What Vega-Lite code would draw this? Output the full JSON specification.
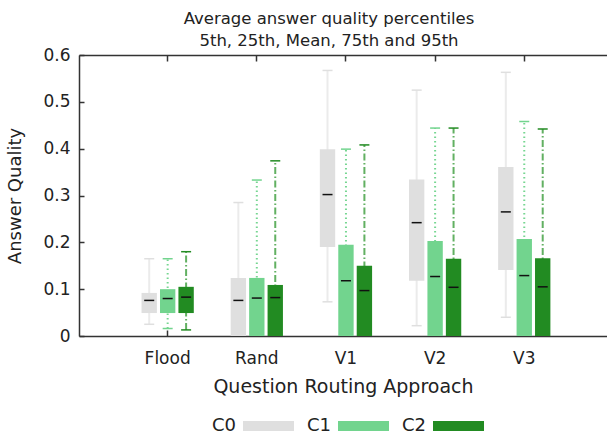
{
  "$schema": "https://vega.github.io/schema/vega-lite/v6.json",
  "width": 528,
  "height": 281,
  "autosize": {"type": "none"},
  "padding": {"left": 79, "top": 55, "right": 0, "bottom": 100},
  "background": "white",
  "config": {
    "font": "DejaVu Sans",
    "view": {"stroke": null},
    "axis": {
      "grid": false,
      "domainColor": "#333333",
      "domainWidth": 1.5,
      "tickColor": "#333333",
      "tickWidth": 1.5,
      "labelColor": "#222222",
      "titleColor": "#222222",
      "labelFontSize": 17,
      "titleFontWeight": "normal",
      "zindex": 1
    }
  },
  "title": {
    "text": ["Average answer quality percentiles", "5th, 25th, Mean, 75th and 95th"],
    "fontSize": 16.5,
    "fontWeight": "normal",
    "color": "#222222",
    "anchor": "middle",
    "dx": -14,
    "offset": -3,
    "lineHeight": 22
  },
  "data": {
    "values": [
      {"approach": "Flood", "cls": "C0", "p5": 0.025, "p25": 0.049, "mean": 0.076, "p75": 0.092, "p95": 0.165},
      {"approach": "Flood", "cls": "C1", "p5": 0.016, "p25": 0.049, "mean": 0.080, "p75": 0.100, "p95": 0.165},
      {"approach": "Flood", "cls": "C2", "p5": 0.013, "p25": 0.049, "mean": 0.083, "p75": 0.105, "p95": 0.180},
      {"approach": "Rand", "cls": "C0", "p5": 0, "p25": 0, "mean": 0.076, "p75": 0.124, "p95": 0.285},
      {"approach": "Rand", "cls": "C1", "p5": 0, "p25": 0, "mean": 0.081, "p75": 0.124, "p95": 0.333},
      {"approach": "Rand", "cls": "C2", "p5": 0, "p25": 0, "mean": 0.082, "p75": 0.109, "p95": 0.374},
      {"approach": "V1", "cls": "C0", "p5": 0.073, "p25": 0.190, "mean": 0.302, "p75": 0.399, "p95": 0.567},
      {"approach": "V1", "cls": "C1", "p5": 0, "p25": 0, "mean": 0.118, "p75": 0.195, "p95": 0.399},
      {"approach": "V1", "cls": "C2", "p5": 0, "p25": 0, "mean": 0.097, "p75": 0.150, "p95": 0.408},
      {"approach": "V2", "cls": "C0", "p5": 0.022, "p25": 0.118, "mean": 0.242, "p75": 0.334, "p95": 0.525},
      {"approach": "V2", "cls": "C1", "p5": 0, "p25": 0, "mean": 0.127, "p75": 0.203, "p95": 0.444},
      {"approach": "V2", "cls": "C2", "p5": 0, "p25": 0, "mean": 0.104, "p75": 0.165, "p95": 0.444},
      {"approach": "V3", "cls": "C0", "p5": 0.040, "p25": 0.141, "mean": 0.265, "p75": 0.361, "p95": 0.563},
      {"approach": "V3", "cls": "C1", "p5": 0, "p25": 0, "mean": 0.129, "p75": 0.207, "p95": 0.458},
      {"approach": "V3", "cls": "C2", "p5": 0, "p25": 0, "mean": 0.105, "p75": 0.166, "p95": 0.442}
    ]
  },
  "resolve": {"axis": {"x": "independent"}},
  "layer": [
    {
      "mark": {"type": "rule", "strokeWidth": 2},
      "encoding": {
        "x": {
          "field": "approach", "type": "nominal",
          "sort": ["Flood", "Rand", "V1", "V2", "V3"],
          "scale": {"paddingInner": 0, "paddingOuter": 0.4613, "align": 0.536},
          "axis": {
            "orient": "bottom", "labelAngle": 0, "tickSize": -6, "labelPadding": 20.6,
            "title": "Question Routing Approach", "titleFontSize": 19, "titlePadding": 11
          }
        },
        "xOffset": {
          "field": "cls", "type": "nominal",
          "scale": {"paddingInner": 0.1667, "paddingOuter": 2.298}
        },
        "y": {
          "field": "p5", "type": "quantitative",
          "scale": {"domain": [0, 0.6], "nice": false},
          "axis": {
            "values": [0, 0.1, 0.2, 0.3, 0.4, 0.5, 0.6], "format": "~g",
            "tickSize": -5, "labelPadding": 14,
            "title": "Answer Quality", "titleFontSize": 18, "titlePadding": 18
          }
        },
        "y2": {"field": "p95"},
        "stroke": {
          "field": "cls", "type": "nominal",
          "scale": {"range": ["#ebebeb", "#76d691", "#62b062"]},
          "legend": null
        },
        "strokeDash": {
          "field": "cls", "type": "nominal",
          "scale": {"range": [[1, 0], [1.5, 3], [7, 2.5, 1.5, 2.5]]},
          "legend": null
        }
      }
    },
    {
      "mark": {"type": "bar", "opacity": 1},
      "encoding": {
        "x": {
          "field": "approach", "type": "nominal",
          "sort": ["Flood", "Rand", "V1", "V2", "V3"],
          "axis": {"orient": "top", "labels": false, "title": null, "tickSize": -6, "domain": true}
        },
        "xOffset": {"field": "cls", "type": "nominal"},
        "y": {"field": "p25", "type": "quantitative"},
        "y2": {"field": "p75"},
        "fill": {
          "field": "cls", "type": "nominal",
          "scale": {"domain": ["C0", "C1", "C2"], "range": ["#dfdfdf", "#72d48e", "#228b22"]},
          "legend": {
            "orient": "none", "legendX": 125, "legendY": 362,
            "direction": "horizontal", "title": null,
            "symbolType": "M6,-1H16.2V1H6Z", "symbolSize": 100,
            "symbolStrokeWidth": 0, "symbolOpacity": 1,
            "labelFontSize": 18, "labelOffset": -10, "labelColor": "#222222",
            "columnPadding": 5, "padding": 0
          }
        }
      }
    },
    {
      "mark": {"type": "tick", "size": 10, "thickness": 1.5, "opacity": 1},
      "encoding": {
        "x": {"field": "approach", "type": "nominal", "sort": ["Flood", "Rand", "V1", "V2", "V3"], "axis": null},
        "xOffset": {"field": "cls", "type": "nominal"},
        "y": {"field": "p95", "type": "quantitative"},
        "fill": {"field": "cls", "type": "nominal"}
      }
    },
    {
      "transform": [{"filter": "datum.p5 > 0"}],
      "mark": {"type": "tick", "size": 10, "thickness": 1.5, "opacity": 1},
      "encoding": {
        "x": {"field": "approach", "type": "nominal", "sort": ["Flood", "Rand", "V1", "V2", "V3"], "axis": null},
        "xOffset": {"field": "cls", "type": "nominal"},
        "y": {"field": "p5", "type": "quantitative"},
        "fill": {"field": "cls", "type": "nominal"}
      }
    },
    {
      "mark": {"type": "tick", "size": 10, "thickness": 1.5, "color": "#111111", "opacity": 1},
      "encoding": {
        "x": {"field": "approach", "type": "nominal", "sort": ["Flood", "Rand", "V1", "V2", "V3"], "axis": null},
        "xOffset": {"field": "cls", "type": "nominal"},
        "y": {"field": "mean", "type": "quantitative"}
      }
    }
  ]
}
